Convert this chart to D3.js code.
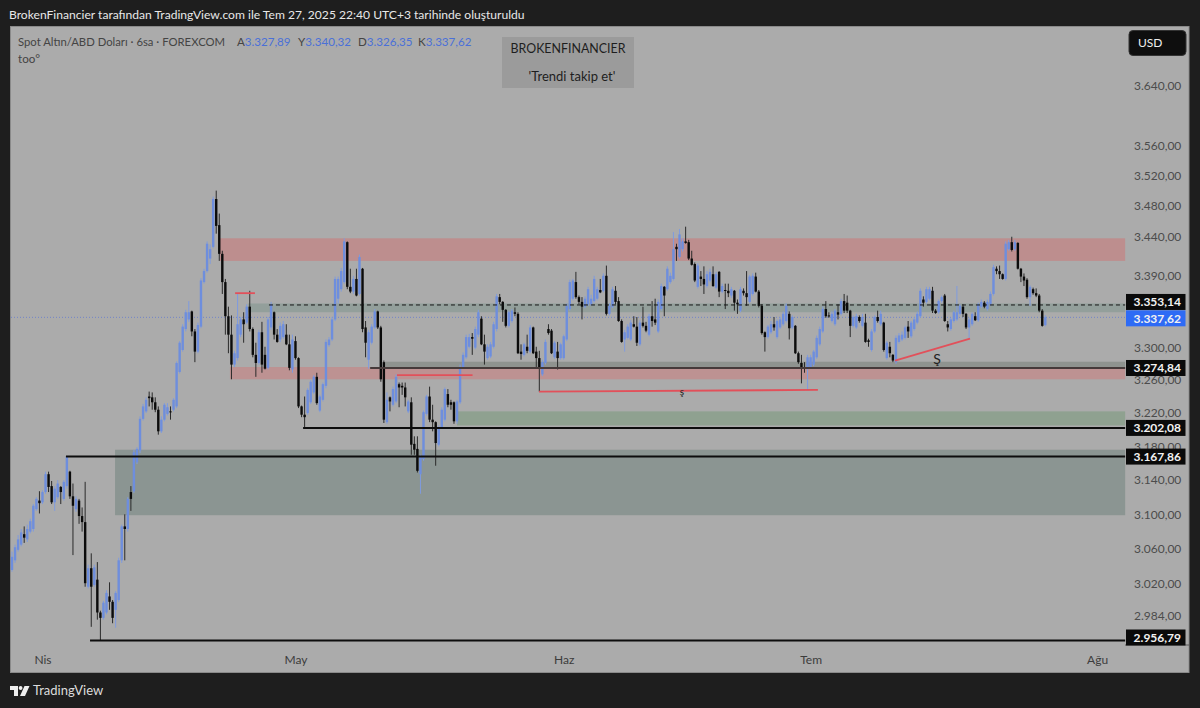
<!DOCTYPE html>
<html>
<head>
<meta charset="utf-8">
<script src="https://cdn.jsdelivr.net/npm/d3@7"></script>
<style>
body { margin: 0; background: #1e1e1e; }
svg { display: block; }
text { font-family: "Lato", sans-serif; }
</style>
</head>
<body>
<div id="canvas"></div>
<script>
// 6h candles, one list per month, each bar is [open, high, low, close]
const marchBars = [
[3036,3057,3034,3051],[3047,3065,3044,3062],[3059,3076,3057,3071],[3065,3083,3063,3079],[3077,3086,3067,3073],
[3071,3088,3068,3083],[3080,3095,3078,3092],[3083,3112,3080,3110],[3106,3120,3104,3118],[3116,3127,3101,3113]];
const aprilBars = [
[3114,3128,3112,3126],[3126,3150,3124,3147],[3147,3150,3126,3132],[3133,3139,3112,3114],[3114,3133,3104,3130],
[3120,3140,3118,3136],[3132,3133,3112,3126],[3118,3140,3116,3138],[3133,3168,3130,3168],[3150,3151,3118,3121],
[3121,3136,3053,3110],[3106,3121,3103,3118],[3116,3118,3089,3098],[3098,3108,3080,3091],[3091,3138,3017,3021],
[3017,3042,3015,3038],[3038,3055,2972,3017],[3019,3042,3017,3039],[3025,3045,2980,2988],[2988,2990,2956.79,2982],
[2982,3001,2980,2999],[2988,3013,2986,3010],[3006,3022,2991,3000],[3000,3002,2976,2982],[2991,3012,2971,3010],
[3002,3050,3000,3047],[3047,3088,3044,3086],[3086,3100,3047,3083],[3083,3120,3080,3118],[3126,3133,3104,3118],
[3127,3176,3125,3173],[3161,3179,3159,3177],[3175,3216,3172,3213],[3213,3231,3211,3228],[3222,3239,3220,3236],
[3240,3246,3228,3238],[3239,3245,3224,3233],[3233,3239,3221,3224],[3224,3228,3194,3198],[3198,3216,3196,3212],
[3212,3232,3210,3230],[3219,3232,3217,3227],[3222,3228,3212,3221],[3224,3238,3222,3236],[3228,3283,3226,3281],
[3270,3308,3268,3306],[3297,3329,3295,3326],[3323,3347,3320,3344],[3335,3358,3332,3344],[3345,3346,3314,3320],
[3320,3323,3282,3295],[3295,3331,3293,3328],[3326,3387,3324,3384],[3382,3399,3380,3396],[3396,3434,3394,3431],
[3412,3430,3405,3424],[3427,3492,3425,3489],[3489,3500,3444,3454],[3455,3470,3409,3418],[3418,3422,3367,3382],
[3382,3386,3316,3339],[3339,3351,3293,3316],[3316,3340,3261,3279],[3279,3296,3276,3293],[3287,3368,3284,3329],
[3316,3338,3313,3335],[3335,3344,3306,3329],[3331,3354,3329,3351],[3351,3371,3320,3323],[3323,3325,3288,3291],
[3291,3306,3264,3281],[3281,3322,3279,3319],[3319,3332,3269,3279],[3291,3301,3273,3274],[3275,3338,3273,3335],
[3325,3357,3322,3354],[3344,3345,3310,3316],[3316,3323,3306,3307],[3310,3331,3307,3327],[3313,3333,3311,3329],
[3316,3329,3303,3304],[3304,3316,3272,3275],[3273,3316,3269,3310]];
const mayBars = [
[3308,3314,3285,3287],[3287,3288,3226,3228],[3228,3229,3215,3218],[3218,3240,3202.08,3215],[3220,3250,3218,3248],
[3233,3260,3231,3258],[3245,3266,3243,3264],[3264,3269,3230,3232],[3223,3242,3221,3240],[3236,3257,3234,3255],
[3253,3310,3250,3307],[3303,3313,3301,3310],[3310,3338,3308,3335],[3335,3389,3333,3386],[3361,3389,3355,3386],
[3373,3400,3370,3396],[3382,3438,3380,3434],[3433,3434,3373,3376],[3376,3399,3368,3370],[3370,3390,3367,3386],
[3386,3399,3364,3365],[3367,3417,3365,3414],[3399,3400,3319,3323],[3325,3333,3288,3306],[3285,3322,3274,3319],
[3306,3329,3304,3326],[3325,3348,3323,3345],[3345,3346,3323,3325],[3325,3327,3258,3261],[3282,3284,3208,3212],
[3209,3245,3207,3236],[3239,3240,3222,3234],[3230,3252,3228,3249],[3234,3267,3232,3264],[3255,3257,3227,3251],
[3253,3257,3242,3251],[3251,3257,3228,3239],[3222,3236,3220,3234],[3233,3239,3170,3182],[3183,3192,3170,3176],
[3177,3192,3149,3151],[3147,3170,3124,3168],[3165,3223,3163,3221],[3219,3242,3217,3240],[3240,3252,3209,3212],
[3212,3230,3198,3209],[3209,3210,3157,3184],[3182,3205,3180,3203],[3203,3227,3201,3224],[3212,3251,3210,3249],
[3243,3249,3227,3230],[3233,3236,3224,3230],[3233,3234,3207,3210],[3210,3236,3207,3234],[3233,3279,3231,3276],
[3276,3294,3274,3291],[3288,3316,3286,3313],[3301,3317,3299,3313],[3313,3318,3291,3311],[3300,3326,3298,3323],
[3316,3347,3313,3344],[3336,3339,3303,3304],[3304,3316,3279,3295],[3287,3304,3285,3301],[3289,3307,3287,3304],
[3301,3332,3299,3329],[3323,3367,3320,3364],[3363,3367,3354,3357],[3357,3358,3332,3347],[3347,3348,3325,3327],
[3327,3346,3325,3344],[3333,3348,3331,3346],[3344,3350,3339,3342],[3342,3344,3292,3293],[3295,3304,3285,3292],
[3291,3306,3289,3304],[3301,3316,3293,3296],[3295,3328,3293,3325],[3325,3326,3292,3293],[3295,3301,3276,3287],
[3287,3296,3246,3275],[3267,3285,3265,3282],[3281,3310,3279,3307],[3323,3329,3316,3318],[3321,3323,3292,3293],
[3288,3308,3286,3306],[3295,3307,3273,3287],[3287,3306,3285,3304]];
const juneBars = [
[3287,3316,3285,3314],[3310,3355,3308,3352],[3348,3385,3346,3382],[3361,3386,3359,3384],[3382,3395,3361,3363],
[3363,3365,3354,3357],[3357,3363,3335,3351],[3351,3364,3349,3361],[3354,3376,3352,3373],[3354,3366,3352,3361],
[3358,3390,3356,3386],[3361,3376,3359,3373],[3372,3386,3368,3369],[3371,3393,3369,3390],[3390,3403,3340,3342],
[3342,3355,3340,3352],[3351,3376,3349,3373],[3371,3377,3354,3357],[3358,3363,3332,3333],[3333,3335,3306,3307],
[3310,3322,3295,3319],[3312,3329,3310,3326],[3310,3334,3308,3331],[3329,3339,3325,3326],[3326,3338,3302,3306],
[3304,3334,3302,3331],[3331,3351,3325,3327],[3327,3332,3319,3321],[3316,3342,3314,3339],[3339,3358,3326,3333],
[3335,3361,3328,3331],[3320,3360,3318,3357],[3348,3380,3346,3377],[3376,3377,3339,3365],[3373,3402,3371,3399],
[3382,3394,3380,3390],[3386,3446,3384,3424],[3427,3431,3409,3424],[3414,3450,3412,3443],[3424,3438,3421,3434],
[3434,3453,3431,3432],[3433,3436,3410,3412],[3412,3422,3403,3404],[3405,3407,3382,3384],[3376,3406,3374,3403],
[3389,3396,3377,3386],[3386,3402,3367,3379],[3377,3396,3375,3392],[3384,3399,3382,3395],[3392,3402,3376,3377],
[3375,3395,3373,3392],[3395,3396,3363,3370],[3370,3380,3368,3377],[3372,3380,3348,3371],[3371,3380,3363,3368],
[3365,3376,3362,3373],[3371,3372,3346,3356],[3356,3360,3342,3354],[3346,3376,3344,3373],[3371,3374,3365,3368],
[3368,3396,3352,3363],[3357,3391,3355,3389],[3367,3393,3365,3390],[3389,3394,3369,3370],[3370,3372,3350,3352],
[3352,3354,3316,3318],[3319,3320,3295,3313],[3313,3328,3311,3326],[3319,3333,3317,3329],[3329,3338,3321,3325],
[3313,3335,3311,3333],[3325,3338,3323,3335],[3329,3345,3327,3342],[3333,3355,3331,3352],[3342,3345,3310,3324],
[3325,3340,3323,3338],[3327,3328,3292,3293],[3293,3295,3280,3282],[3281,3291,3256,3274],[3275,3282,3269,3274],
[3275,3291,3248,3288]];
const julyBars = [
[3276,3291,3274,3288],[3279,3297,3277,3295],[3288,3315,3286,3312],[3304,3326,3302,3323],[3320,3351,3318,3348],
[3348,3358,3337,3339],[3340,3344,3337,3339],[3333,3345,3331,3342],[3329,3348,3327,3346],[3344,3354,3335,3341],
[3342,3361,3340,3358],[3358,3367,3343,3346],[3356,3365,3343,3346],[3346,3347,3313,3327],[3327,3340,3325,3338],
[3325,3342,3323,3339],[3338,3340,3331,3333],[3327,3342,3325,3338],[3331,3342,3306,3307],[3309,3311,3301,3307],
[3297,3323,3295,3320],[3320,3340,3318,3338],[3338,3346,3331,3333],[3329,3346,3327,3342],[3331,3332,3295,3297],
[3287,3308,3285,3306],[3301,3307,3288,3293],[3291,3292,3282,3284],[3282,3315,3280,3312],[3307,3318,3305,3315],
[3310,3320,3308,3316],[3312,3327,3310,3325],[3326,3333,3312,3320],[3314,3333,3312,3331],[3323,3338,3321,3335],
[3331,3345,3329,3342],[3339,3374,3337,3371],[3360,3364,3351,3356],[3357,3376,3355,3373],[3361,3376,3359,3373],
[3371,3376,3343,3346],[3346,3348,3342,3343],[3344,3360,3342,3358],[3358,3365,3356,3363],[3365,3367,3332,3333],
[3329,3333,3320,3325],[3323,3337,3321,3335],[3333,3346,3331,3344],[3335,3377,3333,3344],[3342,3354,3340,3352],
[3351,3354,3338,3342],[3342,3343,3323,3325],[3325,3337,3310,3335],[3329,3344,3327,3342],[3339,3344,3333,3334],
[3334,3356,3332,3354],[3351,3360,3349,3357],[3356,3358,3349,3351],[3348,3360,3346,3357],[3354,3370,3352,3367],
[3367,3404,3365,3401],[3399,3402,3392,3396],[3396,3403,3386,3392],[3392,3393,3385,3386],[3386,3434,3384,3431],
[3424,3436,3422,3433],[3433,3440,3421,3423],[3424,3436,3422,3433],[3432,3433,3398,3399],[3399,3400,3382,3389],
[3389,3393,3377,3384],[3385,3387,3361,3363],[3363,3378,3352,3376],[3373,3375,3366,3368],[3368,3374,3363,3365],
[3365,3367,3344,3346],[3346,3348,3326,3327],[3327.89,3340.32,3326.35,3337.62]];

const monthNames = ["Nis", "May", "Haz", "Tem", "Ağu"];
const augustBar = 356; // first bar of August, past the end of the data

const priceTicks = [3640, 3560, 3520, 3480, 3440, 3390, 3300, 3260, 3220, 3180, 3140, 3100, 3060, 3020, 2984];

// shaded zones: price top, price bottom, first bar
const zoneTops = [3438, 3355, 3282.5, 3276, 3222, 3176];
const zoneBottoms = [3409, 3344, 3274, 3261, 3205, 3099];
const zoneStarts = [68.2, 77.4, 122.4, 71.5, 146, 33.8];
const zoneColors = ["#bd8e8e", "#939f9b", "#8f938f", "#bd9292", "#8fa190", "#8b9592"];
const zoneEnd = 365.2;

// horizontal levels that carry a price label on the axis
const levelPrices = [3202.08, 3167.86, 2956.79, 3274.84];
const levelStarts = [95.5, 17.7, 25.6, 117.5];
const levelColors = ["#0d0d0d", "#0d0d0d", "#0d0d0d", "#463a3a"];
const dashedPrice = 3353.14;
const dashedStart = 84.3;
const lastPrice = 3337.62;

// red trend lines: start bar, start price, end bar, end price
const redLineBars = [[73.2, 79.7], [126.3, 151.1], [172.9, 264.4], [289.7, 314.3]];
const redLinePrices = [[3368, 3368], [3266, 3266], [3246, 3248], [3284, 3311]];

const noteTexts = ["ş", "Ş"];
const noteBars = [219.8, 303.5];
const notePrices = [3245, 3284];

const axisLabelPrices = [3353.14, 3337.62, 3274.84, 3202.08, 3167.86, 2956.79];

const bars = marchBars.concat(aprilBars, mayBars, juneBars, julyBars);

// month ticks sit on the first bar of each month
let monthBars = [];
let count = marchBars.length;
for (const month of [aprilBars, mayBars, juneBars, julyBars]) {
    monthBars.push(count);
    count += month.length;
}
monthBars.push(augustBar);

const W = 1200, H = 708;
const svg = d3.select("#canvas").append("svg").attr("width", W).attr("height", H);

const x = d3.scaleLinear().domain([0, bars.length - 1]).range([12, 1045.3]);
const y = d3.scaleLog().domain([2956.79, 3640]).range([640.5, 86]);

const turkish = d3.formatLocale({decimal: ",", thousands: ".", grouping: [3], currency: ["", ""]});
const fmt = turkish.format(",.2f");

// background pane
svg.append("rect").attr("width", W).attr("height", H).attr("fill", "#1e1e1e");
svg.append("rect").attr("x", 10.5).attr("y", 26.5).attr("width", 1178.5).attr("height", 646)
    .attr("fill", "#ababab").attr("stroke", "#8a8a8a");

// zones
svg.append("g").selectAll("rect").data(zoneTops).join("rect")
    .attr("x", (d, i) => x(zoneStarts[i]))
    .attr("width", (d, i) => x(zoneEnd) - x(zoneStarts[i]))
    .attr("y", d => y(d))
    .attr("height", (d, i) => y(zoneBottoms[i]) - y(d))
    .attr("fill", (d, i) => zoneColors[i]);

// last price dotted line
svg.append("line").attr("x1", 11).attr("x2", x(zoneEnd))
    .attr("y1", y(lastPrice)).attr("y2", y(lastPrice))
    .attr("stroke", "#7084c8").attr("stroke-width", 1).attr("stroke-dasharray", "1 2");

// candles
const BLUE = "#6e8edd", BLACK = "#0b0b0b";
const candleColor = d => d[3] >= d[0] ? BLUE : BLACK;
const candles = svg.append("g");
candles.selectAll("line").data(bars).join("line")
    .attr("x1", (d, i) => x(i)).attr("x2", (d, i) => x(i))
    .attr("y1", d => y(d[1])).attr("y2", d => y(d[2]))
    .attr("stroke", d => d[3] >= d[0] ? "#7f9bdf" : "#2a2a2a")
    .attr("stroke-width", 1);
candles.selectAll("rect").data(bars).join("rect")
    .attr("x", (d, i) => x(i) - 1.2)
    .attr("width", 2.4)
    .attr("y", d => y(Math.max(d[0], d[3])))
    .attr("height", d => Math.max(1, Math.abs(y(d[0]) - y(d[3]))))
    .attr("fill", candleColor);

// levels
svg.append("g").selectAll("line").data(levelPrices).join("line")
    .attr("x1", (d, i) => x(levelStarts[i])).attr("x2", x(zoneEnd))
    .attr("y1", d => y(d)).attr("y2", d => y(d))
    .attr("stroke", (d, i) => levelColors[i]).attr("stroke-width", 2);
svg.append("line").attr("x1", x(dashedStart)).attr("x2", x(zoneEnd))
    .attr("y1", y(dashedPrice)).attr("y2", y(dashedPrice))
    .attr("stroke", "#151515").attr("stroke-width", 1).attr("stroke-dasharray", "4 3");

// red lines
svg.append("g").selectAll("line").data(redLineBars).join("line")
    .attr("x1", d => x(d[0])).attr("x2", d => x(d[1]))
    .attr("y1", (d, i) => y(redLinePrices[i][0])).attr("y2", (d, i) => y(redLinePrices[i][1]))
    .attr("stroke", "#e2505a").attr("stroke-width", 1.8);

// notes on the chart
svg.append("g").selectAll("text").data(noteTexts).join("text")
    .attr("x", (d, i) => x(noteBars[i])).attr("y", (d, i) => y(notePrices[i]))
    .attr("text-anchor", "middle").attr("dominant-baseline", "middle")
    .attr("font-size", (d, i) => i == 0 ? 10 : 14).attr("fill", "#222")
    .text(d => d);

// price axis
const yAxis = d3.axisRight(y).tickValues(priceTicks).tickSize(0).tickPadding(0).tickFormat(fmt);
const yG = svg.append("g").attr("transform", "translate(1134,0)").call(yAxis);
yG.select(".domain").remove();
yG.selectAll("text").attr("font-size", 12).attr("fill", "#4c4c4c");

// time axis
const xAxis = d3.axisBottom(x).tickValues(monthBars).tickSize(0).tickPadding(0)
    .tickFormat((d, i) => monthNames[i]);
const xG = svg.append("g").attr("transform", "translate(0,655)").call(xAxis);
xG.select(".domain").remove();
xG.selectAll("text").attr("font-size", 12).attr("fill", "#3c3c3c");

// axis price labels, the crowded ones pushed a little
const labelNudge = {3353.14: -3, 3337.62: 1, 2956.79: -3};
svg.append("line").attr("x1", 1125).attr("x2", 1189).attr("y1", 645).attr("y2", 645).attr("stroke", "#5a5a5a");
const labels = svg.append("g").selectAll("g").data(axisLabelPrices).join("g")
    .attr("transform", d => "translate(1126," + (y(d) + (labelNudge[d] || 0)) + ")");
labels.append("rect").attr("y", -8).attr("width", 59.5).attr("height", 16)
    .attr("fill", d => d == lastPrice ? "#2e6bf5" : "#0a0a0a");
labels.append("text").attr("x", 55).attr("dy", "0.35em").attr("text-anchor", "end")
    .attr("font-size", 12).attr("font-weight", 700).attr("fill", "#f2f2f2")
    .text(d => fmt(d));

// USD button
svg.append("rect").attr("x", 1129).attr("y", 30.5).attr("width", 57).attr("height", 25).attr("rx", 4)
    .attr("fill", "#0e0e0e").attr("stroke", "#333");
svg.append("text").attr("x", 1138).attr("y", 47).attr("font-size", 12).attr("fill", "#eee").text("USD");

// header
svg.append("text").attr("x", 9).attr("y", 19).attr("font-size", 12.1).attr("fill", "#e8e8e8")
    .text("BrokenFinancier tarafından TradingView.com ile Tem 27, 2025 22:40 UTC+3 tarihinde oluşturuldu");

// legend
const ohlcLetters = ["A", "Y", "D", "K"];
const ohlcValues = [3327.89, 3340.32, 3326.35, 3337.62];
const ohlcX = [237, 298, 358, 418];
svg.append("text").attr("x", 18).attr("y", 46).attr("font-size", 11.3).attr("fill", "#444")
    .text("Spot Altın/ABD Doları · 6sa · FOREXCOM");
ohlcLetters.forEach((letter, i) => {
    const t = svg.append("text").attr("x", ohlcX[i]).attr("y", 46).attr("font-size", 11.6).attr("fill", "#444");
    t.append("tspan").text(letter);
    t.append("tspan").attr("fill", "#4a70d8").text(fmt(ohlcValues[i]));
});
svg.append("text").attr("x", 18).attr("y", 63).attr("font-size", 11.6).attr("fill", "#444").text("too°");

// title box
svg.append("rect").attr("x", 502).attr("y", 37).attr("width", 132).attr("height", 51).attr("fill", "#9b9b9b");
svg.append("text").attr("x", 568).attr("y", 53).attr("text-anchor", "middle").attr("font-size", 12.4).attr("fill", "#1e1e1e")
    .text("BROKENFINANCIER");
svg.append("text").attr("x", 572).attr("y", 81).attr("text-anchor", "middle").attr("font-size", 13).attr("fill", "#1e1e1e")
    .text("'Trendi takip et'");

// footer logo
svg.append("path").attr("fill", "#eee").attr("d", "M10 686h8v10h-4v-6h-4z M24.5 686h5l-4.5 10h-5z");
svg.append("circle").attr("cx", 20.6).attr("cy", 688).attr("r", 1.9).attr("fill", "#eee");
svg.append("text").attr("x", 33).attr("y", 695).attr("font-size", 13).attr("fill", "#dcdcdc").text("TradingView");
</script>
</body>
</html>
